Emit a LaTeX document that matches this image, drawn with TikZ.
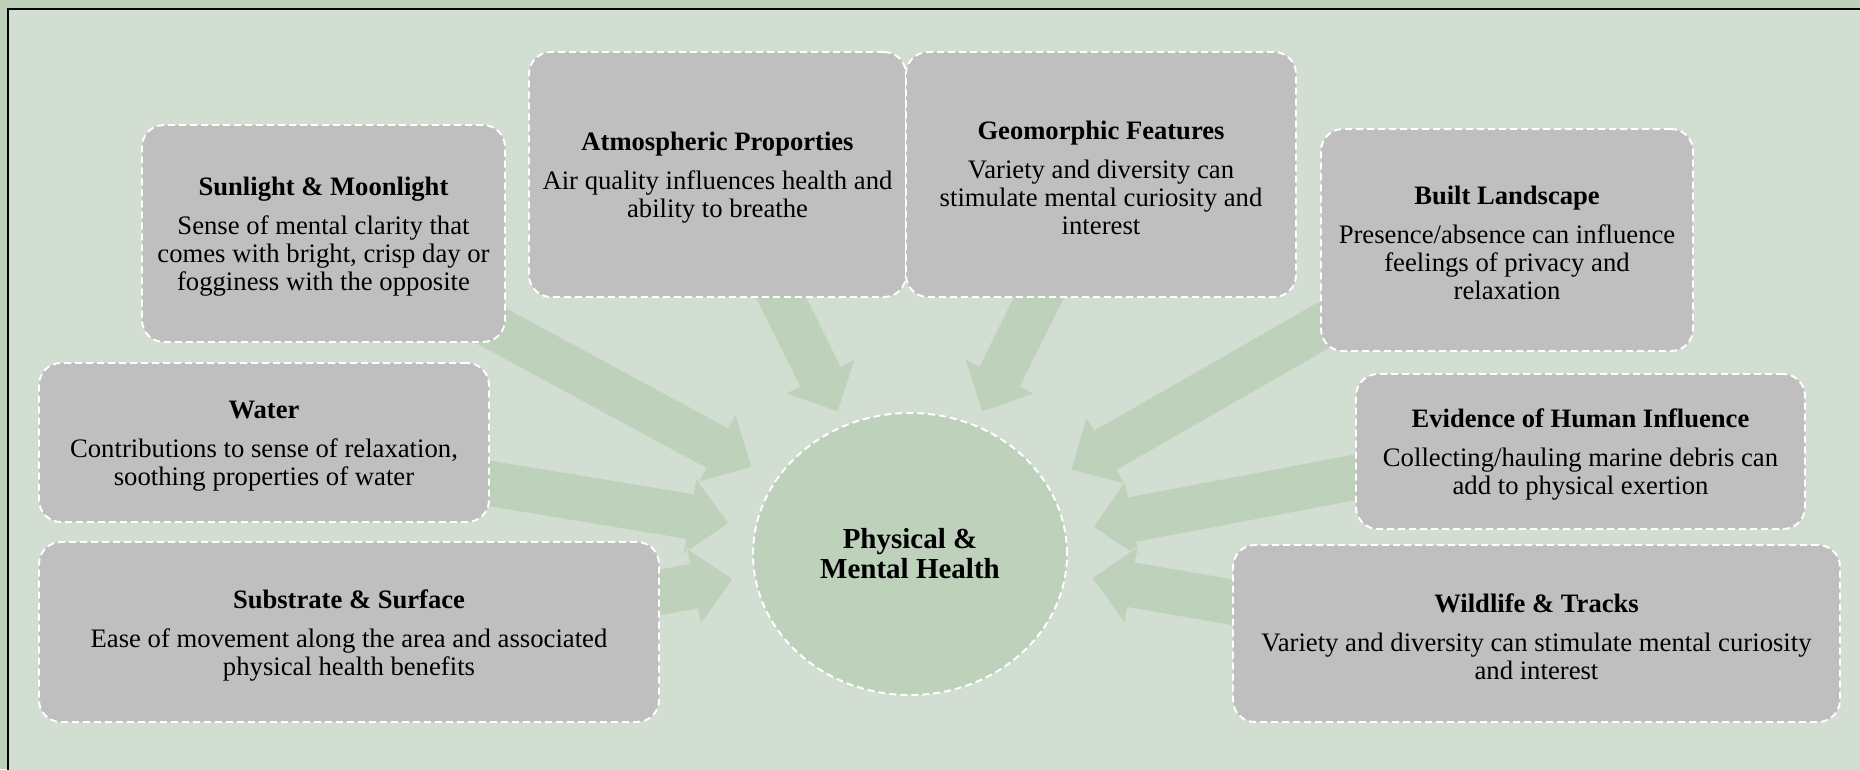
\documentclass[tikz,border=0pt]{standalone}
\usepackage{fontspec}
\setmainfont{Liberation Serif}
\usetikzlibrary{calc,shapes.geometric}

\definecolor{framegreen}{RGB}{189,208,186}
\definecolor{panelgreen}{RGB}{211,222,211}
\definecolor{flowgreen}{RGB}{189,209,187}
\definecolor{boxgray}{RGB}{191,191,191}

% title lines carry a tall strut so the text block sits slightly lower
\newcommand\titlefont{\fontsize{26.6}{28}\selectfont\bfseries\rule{0pt}{25pt}}
\newcommand\bodyfont{\fontsize{26.7}{28}\selectfont}
\newcommand\hubfont{\fontsize{29}{30}\selectfont\bfseries}

\tikzset{
  box/.style={draw=white, line width=1.9pt, dash pattern=on 7pt off 4pt,
    fill=boxgray, rounded corners=22pt, align=center, inner sep=0pt,
    font=\bodyfont},
  hub/.style={ellipse, draw=white, line width=1.9pt, dash pattern=on 7pt off 4pt,
    fill=flowgreen, align=center, inner sep=0pt, font=\hubfont},
  flow/.style={fill=flowgreen, draw=panelgreen, line width=0.8pt, line join=miter}
}

% block arrow from tail #1 to tip #2; #3 names the head base point
\newcommand\blockarrow[3]{%
  \coordinate (#3) at ($(#2)!40pt!(#1)$);
  \draw[flow] ($(#1)!23pt!90:(#2)$) -- ($(#3)!23pt!-90:(#1)$)
    -- ($(#3)!39pt!-90:(#1)$) -- (#2) -- ($(#3)!39pt!90:(#1)$)
    -- ($(#3)!23pt!90:(#1)$) -- ($(#1)!23pt!-90:(#2)$) -- cycle;
}

\begin{document}
\begin{tikzpicture}[x=1pt,y=-1pt]
\useasboundingbox (0,0) rectangle (1860,769);
\begin{scope}
  \clip (0,0) rectangle (1860,769);
  \fill[framegreen] (0,0) rectangle (1860,769);
  \draw[fill=panelgreen, line width=1.4pt] (8,9) rectangle (1880,790);
\end{scope}

% arrow tails (inside the boxes) and tips (around the hub)
\coordinate (sunT)  at (462,310);  \coordinate (sunH)  at (752,467);
\coordinate (watT)  at (433,474);  \coordinate (watH)  at (729,523);
\coordinate (subT)  at (585,606);  \coordinate (subH)  at (733,579);
\coordinate (atmT)  at (749,233);  \coordinate (atmH)  at (838,412);
\coordinate (geoT)  at (1071,233); \coordinate (geoH)  at (982,412);
\coordinate (bltT)  at (1357,306); \coordinate (bltH)  at (1071,470);
\coordinate (evdT)  at (1388,471); \coordinate (evdH)  at (1093,527);
\coordinate (wldT)  at (1289,612); \coordinate (wldH)  at (1092,578);

\blockarrow{atmT}{atmH}{atmB}
\blockarrow{geoT}{geoH}{geoB}
\blockarrow{sunT}{sunH}{sunB}
\blockarrow{watT}{watH}{watB}
\blockarrow{subT}{subH}{subB}
\blockarrow{bltT}{bltH}{bltB}
\blockarrow{evdT}{evdH}{evdB}
\blockarrow{wldT}{wldH}{wldB}

\node[hub, minimum width=314pt, minimum height=282pt] (hub) at (910,554)
  {Physical \&\\Mental Health};

\node[box, minimum width=363pt, minimum height=217pt] (sun) at (323.5,233.5)
  {{\titlefont Sunlight \& Moonlight}\\[11pt]Sense of mental clarity that\\comes with bright, crisp day or\\fogginess with the opposite};
\node[box, minimum width=377pt, minimum height=245pt] (atm) at (717.5,174.5)
  {{\titlefont Atmospheric Proporties}\\[11pt]Air quality influences health and\\ability to breathe};
\node[box, minimum width=390pt, minimum height=245pt] (geo) at (1101,174.5)
  {{\titlefont Geomorphic Features}\\[11pt]Variety and diversity can\\stimulate mental curiosity and\\interest};
\node[box, minimum width=372pt, minimum height=222pt] (blt) at (1507,240)
  {{\titlefont Built Landscape}\\[11pt]Presence/absence can influence\\feelings of privacy and\\relaxation};
\node[box, minimum width=450pt, minimum height=159pt] (wat) at (264,442.5)
  {{\titlefont Water}\\[11pt]Contributions to sense of relaxation,\\soothing properties of water};
\node[box, minimum width=449pt, minimum height=155pt] (evd) at (1580.5,451.5)
  {{\titlefont Evidence of Human Influence}\\[11pt]Collecting/hauling marine debris can\\add to physical exertion};
\node[box, minimum width=620pt, minimum height=180pt] (sub) at (349,632)
  {{\titlefont Substrate \& Surface}\\[11pt]Ease of movement along the area and associated\\physical health benefits};
\node[box, minimum width=607pt, minimum height=177pt] (wld) at (1536.5,633.5)
  {{\titlefont Wildlife \& Tracks}\\[11pt]Variety and diversity can stimulate mental curiosity\\and interest};
\end{tikzpicture}
\end{document}
